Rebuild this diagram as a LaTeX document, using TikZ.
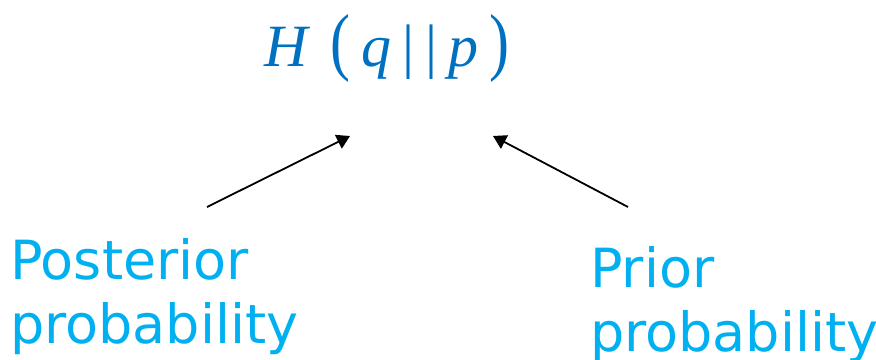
\documentclass[tikz,border=0pt]{standalone}
\usepackage{fontspec}
\usepackage{graphicx}
\setmainfont{DejaVu Sans}
\newfontfamily\ttlfont{Liberation Serif}
\usetikzlibrary{arrows.meta}
\definecolor{titleblue}{HTML}{0070C0}
\definecolor{labelcyan}{HTML}{00B0F0}
\newcommand{\gp}{\hspace{11pt}}
\newcommand{\tallp}[1]{\scalebox{1}[1.25]{#1}}
\tikzset{
  lbl/.style={anchor=base west, inner sep=0pt, text=labelcyan, font=\fontsize{54}{62}\selectfont},
  ttl/.style={anchor=base west, inner sep=0pt, text=titleblue, font=\ttlfont\fontsize{60}{62}\selectfont},
  arr/.style={line width=1.8pt, -{Triangle[length=13pt,width=15pt]}}
}
\begin{document}
\begin{tikzpicture}[x=1pt,y=-1pt]
\useasboundingbox (0,0) rectangle (876,359);
\node[ttl] (title) at (264,66) {\textit{H}\hspace{20pt}\tallp{(}\gp\textit{q}\gp|\gp|\gp\textit{p}\gp\tallp{)}};
\node[lbl] (post1) at (10,279) {Posterior};
\node[lbl] (post2) at (10,343) {probability};
\node[lbl] (prior1) at (590,287) {Prior};
\node[lbl] (prior2) at (590,351) {probability};
\coordinate (pstart) at (207,207);
\coordinate (ptip) at (350,136);
\coordinate (rstart) at (628,207);
\coordinate (rtip) at (493,136);
\draw[arr] (pstart) -- (ptip);
\draw[arr] (rstart) -- (rtip);
\end{tikzpicture}
\end{document}
